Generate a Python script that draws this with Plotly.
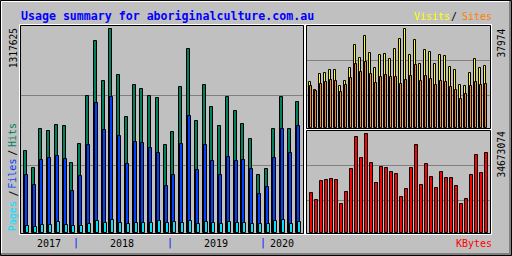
import plotly.graph_objects as go

W, H = 512, 256

months = ["Jun 2017", "Jul 2017", "Aug 2017", "Sep 2017", "Oct 2017", "Nov 2017", "Dec 2017",
          "Jan 2018", "Feb 2018", "Mar 2018", "Apr 2018", "May 2018", "Jun 2018", "Jul 2018",
          "Aug 2018", "Sep 2018", "Oct 2018", "Nov 2018", "Dec 2018",
          "Jan 2019", "Feb 2019", "Mar 2019", "Apr 2019", "May 2019", "Jun 2019", "Jul 2019",
          "Aug 2019", "Sep 2019", "Oct 2019", "Nov 2019", "Dec 2019",
          "Jan 2020", "Feb 2020", "Mar 2020", "Apr 2020", "May 2020"]

hits = [533500, 419000, 671800, 656600, 695500, 689000, 455800, 578900, 883400, 1239800,
        980600, 1317625, 1019500, 747400, 954700, 928800, 883400, 870500, 572400, 650200,
        941800, 1188000, 721400, 954700, 812200, 689000, 877000, 786200, 702000, 611300,
        378000, 416900, 669600, 877000, 669600, 844600]

files = [373700, 308900, 470900, 483800, 496800, 477400, 270000, 367200, 568100, 840200,
         665300, 879100, 626400, 445000, 587500, 581000, 548600, 516200, 302400, 373700,
         578900, 753800, 410400, 572400, 468700, 378000, 490300, 468700, 475200, 416900,
         254900, 300200, 488200, 669600, 520600, 689000]

pages = [43200, 36700, 49700, 49700, 69100, 49700, 43200, 43200, 56200, 75600,
         62600, 82100, 62600, 56200, 62600, 62600, 62600, 75600, 62600, 69100,
         62600, 75600, 56200, 69100, 62600, 56200, 69100, 62600, 62600, 56200,
         56200, 56200, 75600, 86400, 56200, 69100]

visits = [17824, 14724, 20666, 21053, 22474, 22474, 16274, 18212, 23249, 31903,
          27124, 35390, 28674, 23249, 27899, 28286, 26736, 30223, 34098, 37974,
          27899, 33711, 24799, 29836, 29061, 24799, 27899, 27511, 23636, 22474,
          16662, 16274, 21311, 26736, 23249, 24024]

sites = [16016, 14078, 16791, 17566, 18341, 17953, 13691, 16403, 19116, 24540,
         21441, 25315, 20666, 17178, 19503, 20278, 19503, 19503, 16791, 18341,
         19891, 24153, 17953, 19891, 18728, 16403, 17953, 17566, 15628, 14466,
         10979, 12916, 16016, 17566, 16403, 16791]

kbytes = [14152000, 11676000, 18398000, 18752000, 19106000, 18752000, 10260000, 14506000,
          22644000, 33612000, 26182000, 34673074, 24767000, 17690000, 23351000, 22998000,
          21582000, 20875000, 12737000, 15568000, 22998000, 30781000, 16983000, 24413000,
          19813000, 15921000, 21582000, 19460000, 19460000, 16629000, 10260000, 12029000,
          20521000, 27243000, 21229000, 27951000]

year_labels = ["2017", "2018", "2019", "2020"]

BG = "#c0c0c0"
C_HITS, C_FILES, C_PAGES = "#00805c", "#0040ff", "#00e0ff"
C_VISITS, C_SITES, C_KB = "#ffff00", "#ff8000", "#ff0000"
GRID = "#808080"
MONO = "DejaVu Sans Mono"


def px(p):
    return p / W


def py(p):
    return 1 - p / H


fig = go.Figure()

# ---------- panel geometry (pixels) ----------
# frame: black outline rect (half-pixel centers); dom: integer plot-area box
M = dict(frame=(20.5, 25.5, 303.5, 233.5), dom=(21, 26, 303, 233),
         x0=23.8, ux=7.77, zero=233.0, s=1317625 / (233.0 - 29.3), grid=(95.5, 165.5))
V = dict(frame=(306.5, 25.5, 490.5, 128.5), dom=(307, 26, 490, 128),
         x0=308.8, ux=5.0, zero=128.0, s=37974 / (128.0 - 29.3), grid=(60.5, 95.5))
K = dict(frame=(306.5, 130.5, 490.5, 233.5), dom=(307, 131, 490, 233),
         x0=309.8, ux=5.0, zero=233.0, s=34673074 / (233.0 - 134.3), grid=(165.5, 200.5))


def xaxis_cfg(P, anchor):
    l, t, r, b = P["dom"]
    return dict(domain=[px(l), px(r)],
                range=[(l - P["x0"]) / P["ux"], (r - P["x0"]) / P["ux"]],
                type="category", categoryorder="array", categoryarray=months,
                showticklabels=False, showgrid=False, zeroline=False, showline=False,
                ticks="", fixedrange=True, anchor=anchor)


def yaxis_cfg(P, anchor):
    l, t, r, b = P["dom"]
    return dict(domain=[py(b), py(t)],
                range=[(P["zero"] - b) * P["s"], (P["zero"] - t) * P["s"]],
                tickvals=[(P["zero"] - g) * P["s"] for g in P["grid"]],
                showticklabels=False, showgrid=True, gridcolor=GRID, gridwidth=1,
                zeroline=False, showline=False, ticks="", fixedrange=True, anchor=anchor)


def bar(y, color, off_px, w_px, P, xa, ya):
    return go.Bar(x=months, y=y, offset=off_px / P["ux"], width=w_px / P["ux"],
                  marker=dict(color=color, line=dict(color="black", width=1)),
                  xaxis=xa, yaxis=ya, hoverinfo="skip", showlegend=False)


fig.add_trace(bar(hits, C_HITS, 0.0, 3.0, M, "x", "y"))
fig.add_trace(bar(files, C_FILES, 1.0, 3.0, M, "x", "y"))
fig.add_trace(bar(pages, C_PAGES, 2.0, 3.0, M, "x", "y"))
fig.add_trace(bar(visits, C_VISITS, 0.0, 2.0, V, "x2", "y2"))
fig.add_trace(bar(sites, C_SITES, 1.0, 2.0, V, "x2", "y2"))
fig.add_trace(bar(kbytes, C_KB, 0.0, 3.0, K, "x3", "y3"))

shapes = []


def line(x0, y0, x1, y1, color, w=1):
    shapes.append(dict(type="line", xref="paper", yref="paper",
                       x0=px(x0), y0=py(y0), x1=px(x1), y1=py(y1),
                       line=dict(color=color, width=w)))


def panel(P):
    l, t, r, b = P["frame"]
    shapes.append(dict(type="rect", xref="paper", yref="paper",
                       x0=px(l - 1), x1=px(r + 1), y0=py(b + 1), y1=py(t - 1),
                       line=dict(color="white", width=1), fillcolor="rgba(0,0,0,0)"))
    shapes.append(dict(type="rect", xref="paper", yref="paper",
                       x0=px(l), x1=px(r), y0=py(b), y1=py(t),
                       line=dict(color="black", width=1), fillcolor="rgba(0,0,0,0)"))


panel(M)
panel(V)
panel(K)

# outer 3D frame
line(1, 1.5, 510, 1.5, "white")
line(1.5, 1, 1.5, 254, "white")
line(1, 254, 511, 254, "#808080", 2)
line(510, 1, 510, 255, "#808080", 2)
shapes.append(dict(type="rect", xref="paper", yref="paper", x0=px(0.5), x1=px(511.5),
                   y0=py(255.5), y1=py(0.5), line=dict(color="black", width=1)))

ann = []


def text(t, x, y, color, size=10, angle=0, xanchor="center", bold=False):
    ann.append(dict(text=("<b>%s</b>" % t) if bold else t, x=px(x), y=py(y),
                    xref="paper", yref="paper", showarrow=False, textangle=angle,
                    xanchor=xanchor, yanchor="middle",
                    font=dict(family=MONO, size=size, color=color)))


text("Usage summary for aboriginalculture.com.au", 19.0, 15.5, "#0000ff", 11.6, bold=True, xanchor="left")
text("Visits", 411.5, 16.5, C_VISITS, 10, xanchor="left")
text("/", 453.7, 16.5, "black", 10)
text("Sites", 459.5, 16.5, C_SITES, 10, xanchor="left")
text("KBytes", 454.0, 243.3, C_KB, 10, xanchor="left")

for lab, xc in zip(year_labels, [49.3, 122.3, 216.3, 282.3]):
    text(lab, xc, 243.0, "black", 10)
for xc in [76.3, 170.3, 263.3]:
    text("|", xc, 243.0, "#0000ff", 10)

text(f"{max(hits)}", 13.0, 48.3, "black", 9.6, angle=-90)
text(f"{max(visits)}", 500.5, 43.0, "black", 9.6, angle=-90)
text(f"{max(kbytes)}", 500.5, 155.0, "black", 9.6, angle=-90)

text("Hits", 12.5, 135.5, C_HITS, 10, angle=-90)
text("/", 12.5, 153.3, "black", 10, angle=-90)
text("Files", 12.5, 174.2, C_FILES, 10, angle=-90)
text("/", 12.5, 194.0, "black", 10, angle=-90)
text("Pages", 12.5, 216.7, C_PAGES, 10, angle=-90)

fig.update_layout(
    width=W, height=H, margin=dict(l=0, r=0, t=0, b=0, pad=0),
    paper_bgcolor=BG, plot_bgcolor="rgba(0,0,0,0)",
    barmode="overlay", bargap=0, bargroupgap=0, showlegend=False, hovermode=False,
    xaxis=xaxis_cfg(M, "y"), yaxis=yaxis_cfg(M, "x"),
    xaxis2=xaxis_cfg(V, "y2"), yaxis2=yaxis_cfg(V, "x2"),
    xaxis3=xaxis_cfg(K, "y3"), yaxis3=yaxis_cfg(K, "x3"),
    shapes=shapes, annotations=ann,
)

fig.write_html("out.html", config={"displayModeBar": False})
